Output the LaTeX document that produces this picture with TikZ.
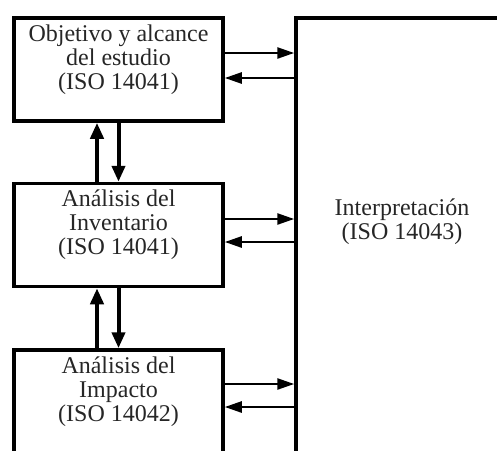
\documentclass[tikz,border=0pt]{standalone}
\usepackage{fontspec}
\setmainfont{Liberation Serif}
\usetikzlibrary{arrows.meta}
\begin{document}
\begin{tikzpicture}[x=1pt,y=-1pt,
    caja/.style={draw,line width=3.5pt,minimum width=209pt,minimum height=103pt,inner sep=0pt},
    texto/.style={align=center,text=black!85,font=\fontsize{24}{24}\selectfont},
    flecha/.style={line width=2.5pt,-{Triangle[length=17pt,width=11pt]}},
    flechav/.style={line width=4pt,-{Triangle[length=16pt,width=13pt]}}]
        \clip (0,0) rectangle (497,450);
        % cajas
        \node[caja] (obj) at (118.5,69.5) {};
        \node[caja] (inv) at (118.5,235) {};
        \node[caja,minimum height=120pt] (imp) at (118.5,410) {};
        \node[caja,minimum width=240pt,minimum height=480pt] (interp) at (416,258) {};
        \node[texto] (objtxt) at ([yshift=-43pt]obj.north) {Objetivo y alcance\\del estudio\\(ISO 14041)};
        \node[texto] (invtxt) at ([yshift=-43pt]inv.north) {Análisis del\\Inventario\\(ISO 14041)};
        \node[texto] (imptxt) at ([yshift=-43pt]imp.north) {Análisis del\\Impacto\\(ISO 14042)};
        \node[texto] (interptxt) at (402,222) {Interpretación\\(ISO 14043)};
        % flechas horizontales
        \draw[flecha] (obj.east |- 0,53) -- (interp.west |- 0,53);
        \draw[flecha] (interp.west |- 0,78) -- (obj.east |- 0,78);
        \draw[flecha] (inv.east |- 0,219) -- (interp.west |- 0,219);
        \draw[flecha] (interp.west |- 0,242) -- (inv.east |- 0,242);
        \draw[flecha] (imp.east |- 0,384) -- (interp.west |- 0,384);
        \draw[flecha] (interp.west |- 0,407) -- (imp.east |- 0,407);
        % flechas verticales
        \draw[flechav] ([xshift=-21.5pt]inv.north) -- ([xshift=-21.5pt]obj.south);
        \draw[flechav] (obj.south) -- (inv.north);
        \draw[flechav] ([xshift=-21.5pt]imp.north) -- ([xshift=-21.5pt]inv.south);
        \draw[flechav] (inv.south) -- (imp.north);
\end{tikzpicture}
\end{document}
